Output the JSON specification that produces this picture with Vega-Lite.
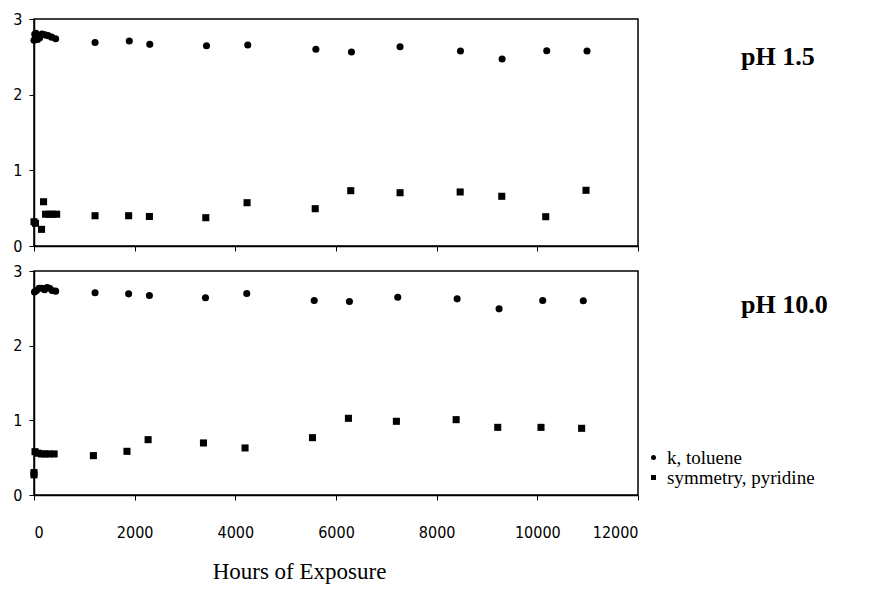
{
  "$schema": "https://vega.github.io/schema/vega-lite/v6.json",
  "background": "white",
  "padding": {"left": 12, "top": 10, "right": 5, "bottom": 5},
  "config": {
    "view": {"stroke": "black", "strokeWidth": 1.5},
    "axis": {
      "domainColor": "black", "domainWidth": 1.5, "tickColor": "black", "tickSize": 5,
      "labelColor": "black", "labelFont": "DejaVu Sans Condensed", "labelFontSize": 16,
      "grid": false
    },
    "concat": {"spacing": 7}
  },
  "datasets": {
    "d": [
      {"panel": "pH 1.5", "series": "k, toluene", "hours": 0, "value": 2.72},
      {"panel": "pH 1.5", "series": "k, toluene", "hours": 15, "value": 2.8},
      {"panel": "pH 1.5", "series": "k, toluene", "hours": 40, "value": 2.81},
      {"panel": "pH 1.5", "series": "k, toluene", "hours": 70, "value": 2.73},
      {"panel": "pH 1.5", "series": "k, toluene", "hours": 110, "value": 2.75},
      {"panel": "pH 1.5", "series": "k, toluene", "hours": 160, "value": 2.8},
      {"panel": "pH 1.5", "series": "k, toluene", "hours": 220, "value": 2.79},
      {"panel": "pH 1.5", "series": "k, toluene", "hours": 280, "value": 2.78},
      {"panel": "pH 1.5", "series": "k, toluene", "hours": 350, "value": 2.76},
      {"panel": "pH 1.5", "series": "k, toluene", "hours": 430, "value": 2.74},
      {"panel": "pH 1.5", "series": "k, toluene", "hours": 1213, "value": 2.69},
      {"panel": "pH 1.5", "series": "k, toluene", "hours": 1893, "value": 2.71},
      {"panel": "pH 1.5", "series": "k, toluene", "hours": 2300, "value": 2.665},
      {"panel": "pH 1.5", "series": "k, toluene", "hours": 3427, "value": 2.647},
      {"panel": "pH 1.5", "series": "k, toluene", "hours": 4247, "value": 2.656},
      {"panel": "pH 1.5", "series": "k, toluene", "hours": 5600, "value": 2.6},
      {"panel": "pH 1.5", "series": "k, toluene", "hours": 6307, "value": 2.564},
      {"panel": "pH 1.5", "series": "k, toluene", "hours": 7273, "value": 2.634},
      {"panel": "pH 1.5", "series": "k, toluene", "hours": 8473, "value": 2.577},
      {"panel": "pH 1.5", "series": "k, toluene", "hours": 9300, "value": 2.471},
      {"panel": "pH 1.5", "series": "k, toluene", "hours": 10187, "value": 2.581},
      {"panel": "pH 1.5", "series": "k, toluene", "hours": 10987, "value": 2.577},
      {"panel": "pH 1.5", "series": "symmetry, pyridine", "hours": 0, "value": 0.32},
      {"panel": "pH 1.5", "series": "symmetry, pyridine", "hours": 30, "value": 0.3},
      {"panel": "pH 1.5", "series": "symmetry, pyridine", "hours": 150, "value": 0.22},
      {"panel": "pH 1.5", "series": "symmetry, pyridine", "hours": 190, "value": 0.585},
      {"panel": "pH 1.5", "series": "symmetry, pyridine", "hours": 230, "value": 0.42},
      {"panel": "pH 1.5", "series": "symmetry, pyridine", "hours": 300, "value": 0.42},
      {"panel": "pH 1.5", "series": "symmetry, pyridine", "hours": 370, "value": 0.42},
      {"panel": "pH 1.5", "series": "symmetry, pyridine", "hours": 450, "value": 0.42},
      {"panel": "pH 1.5", "series": "symmetry, pyridine", "hours": 1213, "value": 0.4},
      {"panel": "pH 1.5", "series": "symmetry, pyridine", "hours": 1880, "value": 0.4},
      {"panel": "pH 1.5", "series": "symmetry, pyridine", "hours": 2293, "value": 0.39},
      {"panel": "pH 1.5", "series": "symmetry, pyridine", "hours": 3413, "value": 0.374},
      {"panel": "pH 1.5", "series": "symmetry, pyridine", "hours": 4233, "value": 0.572},
      {"panel": "pH 1.5", "series": "symmetry, pyridine", "hours": 5587, "value": 0.493},
      {"panel": "pH 1.5", "series": "symmetry, pyridine", "hours": 6293, "value": 0.731},
      {"panel": "pH 1.5", "series": "symmetry, pyridine", "hours": 7273, "value": 0.704},
      {"panel": "pH 1.5", "series": "symmetry, pyridine", "hours": 8467, "value": 0.714},
      {"panel": "pH 1.5", "series": "symmetry, pyridine", "hours": 9293, "value": 0.657},
      {"panel": "pH 1.5", "series": "symmetry, pyridine", "hours": 10167, "value": 0.387},
      {"panel": "pH 1.5", "series": "symmetry, pyridine", "hours": 10967, "value": 0.736},
      {"panel": "pH 10.0", "series": "k, toluene", "hours": 10, "value": 2.72},
      {"panel": "pH 10.0", "series": "k, toluene", "hours": 50, "value": 2.74},
      {"panel": "pH 10.0", "series": "k, toluene", "hours": 100, "value": 2.77},
      {"panel": "pH 10.0", "series": "k, toluene", "hours": 160, "value": 2.77},
      {"panel": "pH 10.0", "series": "k, toluene", "hours": 210, "value": 2.75},
      {"panel": "pH 10.0", "series": "k, toluene", "hours": 260, "value": 2.78},
      {"panel": "pH 10.0", "series": "k, toluene", "hours": 310, "value": 2.77},
      {"panel": "pH 10.0", "series": "k, toluene", "hours": 360, "value": 2.74},
      {"panel": "pH 10.0", "series": "k, toluene", "hours": 430, "value": 2.73},
      {"panel": "pH 10.0", "series": "k, toluene", "hours": 1213, "value": 2.708},
      {"panel": "pH 10.0", "series": "k, toluene", "hours": 1880, "value": 2.694},
      {"panel": "pH 10.0", "series": "k, toluene", "hours": 2293, "value": 2.672},
      {"panel": "pH 10.0", "series": "k, toluene", "hours": 3407, "value": 2.641},
      {"panel": "pH 10.0", "series": "k, toluene", "hours": 4227, "value": 2.698},
      {"panel": "pH 10.0", "series": "k, toluene", "hours": 5567, "value": 2.604},
      {"panel": "pH 10.0", "series": "k, toluene", "hours": 6267, "value": 2.591},
      {"panel": "pH 10.0", "series": "k, toluene", "hours": 7227, "value": 2.649},
      {"panel": "pH 10.0", "series": "k, toluene", "hours": 8407, "value": 2.627},
      {"panel": "pH 10.0", "series": "k, toluene", "hours": 9240, "value": 2.493},
      {"panel": "pH 10.0", "series": "k, toluene", "hours": 10107, "value": 2.604},
      {"panel": "pH 10.0", "series": "k, toluene", "hours": 10913, "value": 2.601},
      {"panel": "pH 10.0", "series": "symmetry, pyridine", "hours": 0, "value": 0.3},
      {"panel": "pH 10.0", "series": "symmetry, pyridine", "hours": 0, "value": 0.27},
      {"panel": "pH 10.0", "series": "symmetry, pyridine", "hours": 20, "value": 0.58},
      {"panel": "pH 10.0", "series": "symmetry, pyridine", "hours": 80, "value": 0.56},
      {"panel": "pH 10.0", "series": "symmetry, pyridine", "hours": 150, "value": 0.55},
      {"panel": "pH 10.0", "series": "symmetry, pyridine", "hours": 220, "value": 0.55},
      {"panel": "pH 10.0", "series": "symmetry, pyridine", "hours": 300, "value": 0.55},
      {"panel": "pH 10.0", "series": "symmetry, pyridine", "hours": 400, "value": 0.55},
      {"panel": "pH 10.0", "series": "symmetry, pyridine", "hours": 1180, "value": 0.527},
      {"panel": "pH 10.0", "series": "symmetry, pyridine", "hours": 1847, "value": 0.585},
      {"panel": "pH 10.0", "series": "symmetry, pyridine", "hours": 2267, "value": 0.741},
      {"panel": "pH 10.0", "series": "symmetry, pyridine", "hours": 3367, "value": 0.697},
      {"panel": "pH 10.0", "series": "symmetry, pyridine", "hours": 4193, "value": 0.63},
      {"panel": "pH 10.0", "series": "symmetry, pyridine", "hours": 5533, "value": 0.768},
      {"panel": "pH 10.0", "series": "symmetry, pyridine", "hours": 6247, "value": 1.027},
      {"panel": "pH 10.0", "series": "symmetry, pyridine", "hours": 7200, "value": 0.987},
      {"panel": "pH 10.0", "series": "symmetry, pyridine", "hours": 8387, "value": 1.009},
      {"panel": "pH 10.0", "series": "symmetry, pyridine", "hours": 9213, "value": 0.906},
      {"panel": "pH 10.0", "series": "symmetry, pyridine", "hours": 10073, "value": 0.906},
      {"panel": "pH 10.0", "series": "symmetry, pyridine", "hours": 10880, "value": 0.893}
    ]
  },
  "vconcat": [
    {
      "width": 604,
      "height": 227,
      "data": {"name": "d"},
      "transform": [{"filter": "datum.panel == 'pH 1.5'"}],
      "title": {
        "text": "pH 1.5", "orient": "top", "anchor": "end", "frame": "group",
        "align": "left", "baseline": "middle", "offset": 0, "dx": 103, "dy": 72,
        "font": "Liberation Serif", "fontSize": 26, "fontWeight": "bold", "color": "black"
      },
      "mark": {"type": "point", "filled": true, "opacity": 1, "size": 50, "color": "black", "clip": false},
      "encoding": {
        "x": {
          "field": "hours", "type": "quantitative",
          "scale": {"domain": [0, 12000], "nice": false},
          "axis": {"values": [0, 2000, 4000, 6000, 8000, 10000, 12000], "labels": false, "title": null}
        },
        "y": {
          "field": "value", "type": "quantitative",
          "scale": {"domain": [0, 3], "nice": false},
          "axis": {"values": [0, 1, 2, 3], "title": null, "labelPadding": 7}
        },
        "shape": {
          "field": "series", "type": "nominal",
          "scale": {"domain": ["k, toluene", "symmetry, pyridine"], "range": ["circle", "square"]},
          "legend": null
        }
      }
    },
    {
      "width": 604,
      "height": 224,
      "data": {"name": "d"},
      "transform": [{"filter": "datum.panel == 'pH 10.0'"}],
      "title": {
        "text": "pH 10.0", "orient": "top", "anchor": "end", "frame": "group",
        "align": "left", "baseline": "middle", "offset": 0, "dx": 103, "dy": 68,
        "font": "Liberation Serif", "fontSize": 26, "fontWeight": "bold", "color": "black"
      },
      "mark": {"type": "point", "filled": true, "opacity": 1, "size": 50, "color": "black", "clip": false},
      "encoding": {
        "x": {
          "field": "hours", "type": "quantitative",
          "scale": {"domain": [0, 12000], "nice": false},
          "axis": {
            "values": [0, 2000, 4000, 6000, 8000, 10000, 12000], "format": "d", "labelPadding": 24,
            "title": "Hours of Exposure", "titleFont": "Liberation Serif", "titleFontSize": 23,
            "titleFontWeight": "normal", "titleColor": "black", "titlePadding": 20,
            "titleX": 265, "titleAlign": "center"
          }
        },
        "y": {
          "field": "value", "type": "quantitative",
          "scale": {"domain": [0, 3], "nice": false},
          "axis": {"values": [0, 1, 2, 3], "title": null, "labelPadding": 7}
        },
        "shape": {
          "field": "series", "type": "nominal",
          "scale": {"domain": ["k, toluene", "symmetry, pyridine"], "range": ["circle", "square"]},
          "legend": {
            "orient": "none", "legendX": 610, "legendY": 177, "title": null,
            "symbolSize": 25, "symbolFillColor": "black", "symbolStrokeWidth": 0,
            "labelFont": "Liberation Serif", "labelFontSize": 19, "labelColor": "black",
            "labelOffset": 4, "rowPadding": 0, "labelLimit": 400
          }
        }
      }
    }
  ],
  "resolve": {"legend": {"shape": "independent"}}
}
